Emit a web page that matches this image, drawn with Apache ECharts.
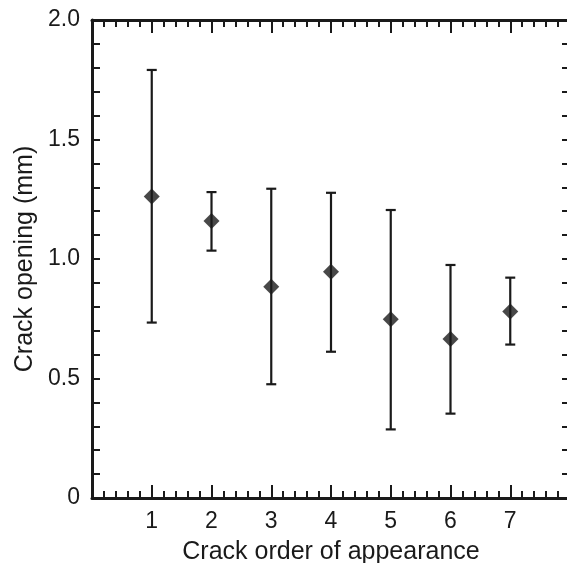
<!DOCTYPE html>
<html>
<head>
<meta charset="utf-8">
<script src="https://cdn.jsdelivr.net/npm/echarts@6/dist/echarts.min.js"></script>
<style>html,body{margin:0;padding:0;background:#fff}#c{width:567px;height:563px}</style>
</head>
<body>
<div id="c"></div>
<script>
var categories = [1, 2, 3, 4, 5, 6, 7];
var means = [1.261, 1.159, 0.884, 0.947, 0.748, 0.665, 0.780];
var upper = [1.791, 1.280, 1.294, 1.277, 1.205, 0.975, 0.922];
var lower = [0.734, 1.035, 0.476, 0.612, 0.287, 0.353, 0.642];
var xTickLabels = ['1', '2', '3', '4', '5', '6', '7'];
var yTickLabels = ['0', '0.5', '1.0', '1.5', '2.0'];

var ink = '#1a1a1a';
var font = 'Liberation Sans, Arial, sans-serif';
var chart = echarts.init(document.getElementById('c'), null, {renderer: 'canvas'});

var meanData = categories.map(function (c, i) { return [c, means[i]]; });
var errData = categories.map(function (c, i) { return [c, lower[i], upper[i]]; });

function xAxisCfg(pos, showLabel) {
  return {
    type: 'value', position: pos, min: 0, max: 8, interval: 1,
    axisLine: {show: true, onZero: false, lineStyle: {color: ink, width: 3}},
    axisTick: {show: true, inside: true, length: 13, lineStyle: {color: ink, width: 2}},
    minorTick: {show: true, splitNumber: 5, length: 7, lineStyle: {color: ink, width: 2}},
    splitLine: {show: false},
    axisLabel: {
      show: showLabel, margin: 12, color: ink, fontSize: 23, fontFamily: font,
      formatter: function (v) {
        var i = categories.indexOf(v);
        return i >= 0 ? xTickLabels[i] : '';
      }
    }
  };
}
function yAxisCfg(pos, showLabel) {
  return {
    type: 'value', position: pos, min: 0, max: 2, interval: 0.5,
    axisLine: {show: true, onZero: false, lineStyle: {color: ink, width: 3}},
    axisTick: {show: true, inside: true, length: 8, lineStyle: {color: ink, width: 2}},
    minorTick: {show: true, splitNumber: 5, length: 8, lineStyle: {color: ink, width: 2}},
    splitLine: {show: false},
    axisLabel: {
      show: showLabel, margin: 12, color: ink, fontSize: 23, fontFamily: font,
      formatter: function (v) { return yTickLabels[Math.round(v / 0.5)]; }
    }
  };
}

var xb = xAxisCfg('bottom', true);
xb.name = 'Crack order of appearance';
xb.nameLocation = 'middle';
xb.nameGap = 42;
xb.nameTextStyle = {color: ink, fontSize: 25, fontFamily: font};
var xt = xAxisCfg('top', false);
var yl = yAxisCfg('left', true);
yl.name = 'Crack opening (mm)';
yl.nameLocation = 'middle';
yl.nameGap = 53;
yl.nameTextStyle = {color: ink, fontSize: 25, fontFamily: font};
var yr = yAxisCfg('right', false);

chart.setOption({
  animation: false,
  backgroundColor: '#fff',
  grid: {left: 92, top: 20, width: 478, height: 478, containLabel: false, outerBoundsMode: 'none'},
  xAxis: [xb, xt],
  yAxis: [yl, yr],
  series: [
    {
      type: 'custom',
      xAxisIndex: 0, yAxisIndex: 0,
      data: errData,
      renderItem: function (params, api) {
        var x = api.value(0);
        var lo = api.coord([x, api.value(1)]);
        var hi = api.coord([x, api.value(2)]);
        var hw = 5;
        var st = {stroke: ink, lineWidth: 2.2};
        return {
          type: 'group',
          children: [
            {type: 'line', shape: {x1: lo[0], y1: lo[1], x2: hi[0], y2: hi[1]}, style: st},
            {type: 'line', shape: {x1: lo[0] - hw, y1: lo[1], x2: lo[0] + hw, y2: lo[1]}, style: st},
            {type: 'line', shape: {x1: hi[0] - hw, y1: hi[1], x2: hi[0] + hw, y2: hi[1]}, style: st}
          ]
        };
      },
      z: 2
    },
    {
      type: 'scatter',
      xAxisIndex: 0, yAxisIndex: 0,
      data: meanData,
      symbol: 'diamond',
      symbolSize: [16, 16],
      itemStyle: {color: ink},
      z: 3
    }
  ]
});
</script>
</body>
</html>
